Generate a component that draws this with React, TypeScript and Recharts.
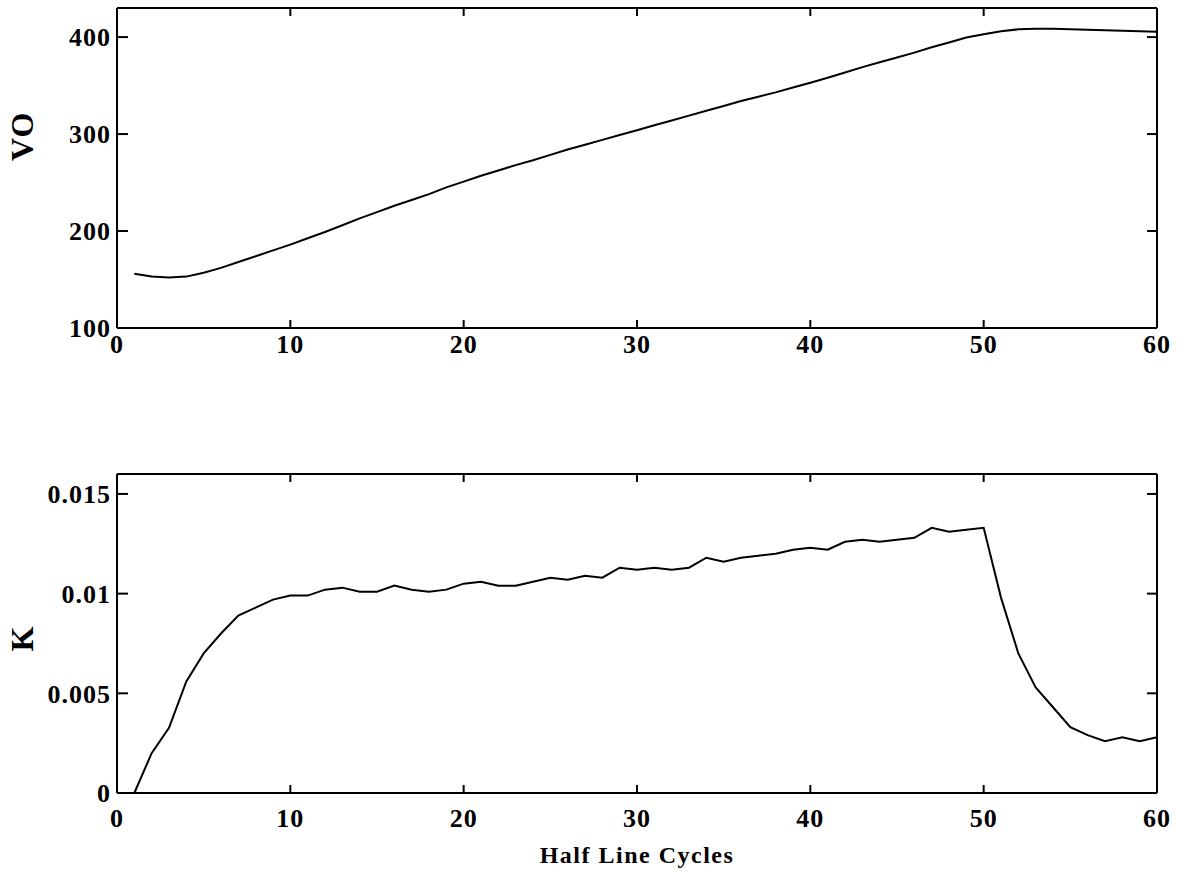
import { Line, LineChart, ReferenceLine, XAxis, YAxis } from "recharts";

const cycles = [
  1, 2, 3, 4, 5, 6, 7, 8, 9, 10, 11, 12, 13, 14, 15, 16, 17, 18, 19, 20,
  21, 22, 23, 24, 25, 26, 27, 28, 29, 30, 31, 32, 33, 34, 35, 36, 37, 38, 39, 40,
  41, 42, 43, 44, 45, 46, 47, 48, 49, 50, 51, 52, 53, 54, 55, 56, 57, 58, 59, 60,
];

const voValues = [
  156, 153, 152, 153, 157, 162, 168, 174, 180, 186,
  192.5, 199, 206, 213, 219.5, 226, 232, 238, 245, 251,
  257, 262.5, 268, 273, 278.5, 284, 289, 294, 299, 304,
  309, 314, 319, 324, 329, 334, 338.5, 343, 348, 353,
  358, 363.5, 369, 374, 379, 384, 389.5, 394.5, 399.5, 403,
  406, 408, 408.5, 408.5, 408, 407.5, 407, 406.5, 406, 405.5,
];

const kValues = [
  0, 0.002, 0.00327, 0.0056, 0.007, 0.008, 0.0089, 0.0093, 0.0097, 0.0099,
  0.0099, 0.0102, 0.0103, 0.0101, 0.0101, 0.0104, 0.0102, 0.0101, 0.0102, 0.0105,
  0.0106, 0.0104, 0.0104, 0.0106, 0.0108, 0.0107, 0.0109, 0.0108, 0.0113, 0.0112,
  0.0113, 0.0112, 0.0113, 0.0118, 0.0116, 0.0118, 0.0119, 0.012, 0.0122, 0.0123,
  0.0122, 0.0126, 0.0127, 0.0126, 0.0127, 0.0128, 0.0133, 0.0131, 0.0132, 0.0133,
  0.0098, 0.007, 0.0053, 0.0043, 0.0033, 0.0029, 0.0026, 0.0028, 0.0026, 0.0028,
];

const xTicks = [0, 10, 20, 30, 40, 50, 60];
const innerXTicks = [10, 20, 30, 40, 50];
const voTicks = [100, 200, 300, 400];
const kTicks = [0, 0.005, 0.01, 0.015];

const voData = cycles.map((c, i) => ({ cycle: c, vo: voValues[i] }));
const kData = cycles.map((c, i) => ({ cycle: c, k: kValues[i] }));

const font = "'Liberation Serif', 'Times New Roman', serif";
const tickStyle = { fill: "#000", fontSize: 26, fontFamily: font, fontWeight: 700, letterSpacing: 1 };
const frame = { stroke: "#000", strokeWidth: 2 };
const tickMark = { stroke: "#000", strokeWidth: 2 };
const noLabel = () => <g />;

// short inner tick marks on the bottom and top edges, drawn in data units (about 8px)
const xTickMarks = (lo: number, hi: number, len: number) =>
  innerXTicks.flatMap((t) => [
    <ReferenceLine key={`b${t}`} xAxisId="x" yAxisId="y" segment={[{ x: t, y: lo }, { x: t, y: lo + len }]}
      stroke="#000" strokeWidth={2} />,
    <ReferenceLine key={`t${t}`} xAxisId="x" yAxisId="y" segment={[{ x: t, y: hi }, { x: t, y: hi - len }]}
      stroke="#000" strokeWidth={2} />,
  ]);

const App = () => {
  return (
    <div style={{ position: "absolute", left: 0, top: 0, width: 1177, height: 880, background: "#fff" }}>
      <LineChart width={1177} height={380} data={voData} margin={{ top: 8, right: 20, bottom: 0, left: 0 }}>
        <XAxis xAxisId="x" dataKey="cycle" type="number" domain={[0, 60]} ticks={xTicks} interval={0}
          height={52} tickSize={0} tickMargin={7} tickLine={false} axisLine={frame} tick={tickStyle} />
        <XAxis xAxisId="xt" dataKey="cycle" type="number" domain={[0, 60]} ticks={xTicks}
          orientation="top" mirror tick={false} tickLine={false} axisLine={frame} />
        <YAxis yAxisId="y" type="number" domain={[100, 430]} ticks={voTicks} width={117}
          tickSize={-11} tickMargin={17} tickLine={tickMark} axisLine={frame} tick={tickStyle}
          label={{ value: "VO", angle: -90, position: "insideLeft", offset: 22, dy: -7,
            style: { fill: "#000", fontSize: 32, fontFamily: font, fontWeight: 700, letterSpacing: 1 } }} />
        <YAxis yAxisId="yr" type="number" domain={[100, 430]} ticks={voTicks}
          orientation="right" mirror tick={noLabel} tickSize={10} tickLine={tickMark} axisLine={frame} />
        {xTickMarks(100, 430, 8.25)}
        <Line xAxisId="xt" yAxisId="yr" dataKey="vo" stroke="none" dot={false} activeDot={false}
          legendType="none" isAnimationActive={false} />
        <Line xAxisId="x" yAxisId="y" dataKey="vo" type="linear" stroke="#000" strokeWidth={2}
          dot={false} isAnimationActive={false} />
      </LineChart>
      <LineChart width={1177} height={500} data={kData} margin={{ top: 94, right: 20, bottom: 0, left: 0 }}>
        <XAxis xAxisId="x" dataKey="cycle" type="number" domain={[0, 60]} ticks={xTicks} interval={0}
          height={87} tickSize={0} tickMargin={16} tickLine={false} axisLine={frame} tick={tickStyle}
          label={{ value: "Half Line Cycles", position: "insideBottom", offset: 17,
            style: { fill: "#000", fontSize: 24, fontFamily: font, fontWeight: 700, letterSpacing: 1.5 } }} />
        <XAxis xAxisId="xt" dataKey="cycle" type="number" domain={[0, 60]} ticks={xTicks}
          orientation="top" mirror tick={false} tickLine={false} axisLine={frame} />
        <YAxis yAxisId="y" type="number" domain={[0, 0.016]} ticks={kTicks} width={117}
          tickSize={-11} tickMargin={17} tickLine={tickMark} axisLine={frame} tick={tickStyle}
          label={{ value: "K", angle: -90, position: "insideLeft", offset: 22, dy: 18,
            style: { fill: "#000", fontSize: 32, fontFamily: font, fontWeight: 700 } }} />
        <YAxis yAxisId="yr" type="number" domain={[0, 0.016]} ticks={kTicks}
          orientation="right" mirror tick={noLabel} tickSize={10} tickLine={tickMark} axisLine={frame} />
        {xTickMarks(0, 0.016, 0.0004)}
        <Line xAxisId="xt" yAxisId="yr" dataKey="k" stroke="none" dot={false} activeDot={false}
          legendType="none" isAnimationActive={false} />
        <Line xAxisId="x" yAxisId="y" dataKey="k" type="linear" stroke="#000" strokeWidth={2}
          dot={false} isAnimationActive={false} />
      </LineChart>
    </div>
  );
};

export default App;
